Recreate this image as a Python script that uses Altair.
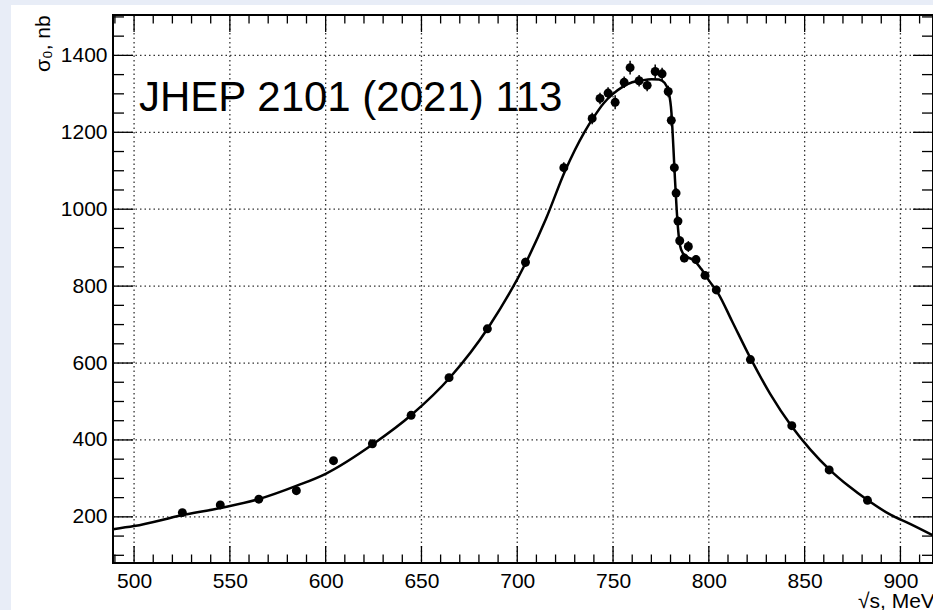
import altair as alt
import pandas as pd

# ---- data ----
energy = [525.2, 545.0, 565.1, 584.7, 604.1, 624.4, 644.6, 664.4, 684.4, 704.3,
          724.3, 739.1, 743.2, 747.4, 751.1, 755.8, 758.9, 763.6, 767.8, 772.0,
          775.6, 778.8, 780.4, 782.0, 782.9, 783.9, 784.8, 787.2, 789.3, 793.3,
          798.0, 803.9, 821.7, 843.3, 862.8, 882.8]
sigma = [211, 231, 246, 268, 346, 390, 464, 562, 689, 862,
         1108, 1236, 1288, 1302, 1278, 1330, 1368, 1334, 1322, 1358,
         1352, 1306, 1231, 1108, 1042, 969, 918, 873, 903, 869,
         828, 790, 609, 437, 322, 243]
sigma_err = [6, 6, 6, 6, 7, 7, 8, 9, 10, 12,
             14, 15, 15, 15, 18, 15, 18, 15, 15, 18,
             16, 15, 15, 14, 13, 12, 12, 11, 14, 11,
             10, 10, 8, 7, 6, 5]

curve_energy = [489, 500, 525, 545, 565, 585, 600, 625, 645, 665, 685, 705, 715,
                725, 735, 740, 745, 750, 755, 760, 765, 770, 774, 777, 779,
                780.5, 781.5, 782.3, 783.2, 784, 785, 786.5, 789, 792, 796, 800,
                805, 812, 822, 832, 843, 853, 863, 873, 883, 895, 905, 917]
curve_sigma = [168, 176, 204, 223, 246, 281, 312, 390, 466, 563, 693, 866, 975,
               1100, 1200, 1240, 1275, 1300, 1318, 1330, 1335, 1338, 1337, 1328, 1305,
               1250, 1160, 1080, 1000, 945, 905, 885, 875, 868, 845, 815,
               780, 710, 610, 520, 437, 375, 323, 280, 243, 205, 182, 152]

x_major = [500, 550, 600, 650, 700, 750, 800, 850, 900]
x_minor = [490, 510, 520, 530, 540, 560, 570, 580, 590, 610, 620, 630, 640,
           660, 670, 680, 690, 710, 720, 730, 740, 760, 770, 780, 790,
           810, 820, 830, 840, 860, 870, 880, 890, 910]
y_major = [200, 400, 600, 800, 1000, 1200, 1400]
y_minor = [100, 150, 250, 300, 350, 450, 500, 550, 650, 700, 750, 850, 900, 950,
           1050, 1100, 1150, 1250, 1300, 1350, 1450, 1500]

FONT = "Liberation Sans"
W, H = 820, 548

pts = pd.DataFrame({"E": energy, "s": sigma, "err": sigma_err})
pts["lo"] = pts["s"] - pts["err"]
pts["hi"] = pts["s"] + pts["err"]
curve = pd.DataFrame({"E": curve_energy, "s": curve_sigma})
xmaj = pd.DataFrame({"v": x_major})
xmin = pd.DataFrame({"v": x_minor})
ymaj = pd.DataFrame({"v": y_major})
ymin = pd.DataFrame({"v": y_minor})
one = pd.DataFrame({"a": [0]})

xscale = alt.Scale(domain=[489, 917], nice=False, zero=False)
yscale = alt.Scale(domain=[80, 1505], nice=False, zero=False)

xaxis = alt.Axis(values=x_major, title=None, grid=False, ticks=False, domain=False,
                 labelFontSize=21, labelFont=FONT, labelColor="black", format="d",
                 labelPadding=7, labelFlush=False, zindex=2)
yaxis = alt.Axis(values=y_major, title=None, grid=False, ticks=False, domain=False,
                 labelFontSize=21, labelFont=FONT, labelColor="black", format="d",
                 labelPadding=6, labelFlush=False, zindex=2)


def X(f):
    return alt.X(f"{f}:Q", scale=xscale, axis=xaxis)


def Y(f):
    return alt.Y(f"{f}:Q", scale=yscale, axis=yaxis)


panel = alt.Chart(one).mark_rect(color="white", clip=False).encode(
    x=alt.value(-102), x2=alt.value(W + 10), y=alt.value(-10), y2=alt.value(H + 47))

grid_style = dict(color="#333333", strokeDash=[1.5, 3], strokeWidth=1.3)
xgrid = alt.Chart(xmaj).mark_rule(**grid_style).encode(
    x=X("v"), y=alt.value(0), y2=alt.value(H))
ygrid = alt.Chart(ymaj).mark_rule(**grid_style).encode(
    y=Y("v"), x=alt.value(0), x2=alt.value(W))

tick_style = dict(color="black", strokeWidth=1.3)
xt_bot_maj = alt.Chart(xmaj).mark_rule(**tick_style).encode(
    x=X("v"), y=alt.value(H), y2=alt.value(H - 17))
xt_bot_min = alt.Chart(xmin).mark_rule(**tick_style).encode(
    x=X("v"), y=alt.value(H), y2=alt.value(H - 8.5))
xt_top_maj = alt.Chart(xmaj).mark_rule(**tick_style).encode(
    x=X("v"), y=alt.value(0), y2=alt.value(17))
xt_top_min = alt.Chart(xmin).mark_rule(**tick_style).encode(
    x=X("v"), y=alt.value(0), y2=alt.value(8.5))
yt_l_maj = alt.Chart(ymaj).mark_rule(**tick_style).encode(
    y=Y("v"), x=alt.value(0), x2=alt.value(20))
yt_l_min = alt.Chart(ymin).mark_rule(**tick_style).encode(
    y=Y("v"), x=alt.value(0), x2=alt.value(11))
yt_r_maj = alt.Chart(ymaj).mark_rule(**tick_style).encode(
    y=Y("v"), x=alt.value(W), x2=alt.value(W - 20))
yt_r_min = alt.Chart(ymin).mark_rule(**tick_style).encode(
    y=Y("v"), x=alt.value(W), x2=alt.value(W - 11))

line = alt.Chart(curve).mark_line(color="black", strokeWidth=2.5,
                                  interpolate="monotone", clip=True).encode(
    x=X("E"), y=Y("s"))

errbars = alt.Chart(pts).mark_rule(color="black", strokeWidth=1.5).encode(
    x=X("E"), y=Y("lo"), y2="hi")
dots = alt.Chart(pts).mark_circle(color="black", opacity=1, size=80).encode(
    x=X("E"), y=Y("s"))

frame = alt.Chart(one).mark_rect(filled=False, stroke="black", strokeWidth=2,
                                 clip=False).encode(
    x=alt.value(0), x2=alt.value(W), y=alt.value(0), y2=alt.value(H))

label = alt.Chart(one).mark_text(text="JHEP 2101 (2021) 113", font=FONT, fontSize=42,
                                 align="left", baseline="alphabetic",
                                 color="black").encode(
    x=alt.value(26), y=alt.value(96))

ytitle = alt.Chart(one).mark_text(text="σ₀, nb", font=FONT, fontSize=21, angle=270,
                                  align="left", baseline="alphabetic",
                                  color="black").encode(
    x=alt.value(-63), y=alt.value(57))

xtitle = alt.Chart(one).mark_text(text="√s, MeV", font=FONT, fontSize=21,
                                  align="left", baseline="alphabetic",
                                  color="black").encode(
    x=alt.value(745), y=alt.value(593))

chart = alt.layer(
    panel, xgrid, ygrid,
    xt_bot_maj, xt_bot_min, xt_top_maj, xt_top_min,
    yt_l_maj, yt_l_min, yt_r_maj, yt_r_min,
    line, errbars, dots, frame, label, ytitle, xtitle
).properties(
    width=W, height=H,
    padding={"left": 113, "top": 15, "right": 0, "bottom": 47},
    autosize=alt.AutoSizeParams(type="none"),
    background="#e8edf7",
).configure_view(stroke=None)

chart.save("out.html", embed_options={"renderer": "svg", "actions": False})
